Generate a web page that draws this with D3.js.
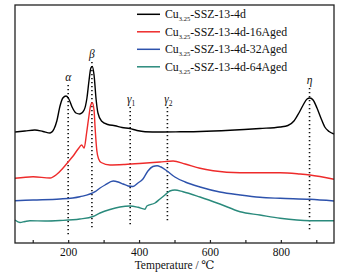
<!DOCTYPE html>
<html><head><meta charset="utf-8">
<script src="https://cdn.jsdelivr.net/npm/d3@7"></script>
<style>
html,body{margin:0;padding:0;background:#fff;}
svg{display:block;}
svg text{font-family:"Liberation Serif","Times New Roman","DejaVu Serif",serif !important;fill:#111;}
</style></head>
<body>
<script>
// ---- data (temperature °C, intensity a.u.) ----
const seriesNames = ["Cu3.25-SSZ-13-4d","Cu3.25-SSZ-13-4d-16Aged","Cu3.25-SSZ-13-4d-32Aged","Cu3.25-SSZ-13-4d-64Aged"];
const seriesColors = ["#000000","#ee2b2b","#2d52ac","#2a8a7c"];
const freshT = [50,78,106,129,149,160,168,177,185,194,202,211,222,233,245,253,259,264,268,273,279,284,294,312,332,352,374,394,417,459,516,572,657,741,798,820,837,851,863,874,882,891,902,913,924,936,950];
const freshV = [111,112,113,111.5,110,114,122,137,145,147,144,136,130,129,133,145,163,175,176.5,168,143,130,122,118.5,117.3,115.5,114.5,112.5,111.3,111,111.2,111.5,112.7,114.5,116,117.5,122,130,138,144,145,143,135,125,116,111.5,109];
const aged16T = [50,101,149,168,185,200,214,228,238,245,252,259,263,268,273,276,281,286,293,318,360,411,459,496,530,572,609,685,798,854,882,950];
const aged16V = [64.7,66.3,65,68.7,74.7,81,87,94,98,95,110,128,137,140.3,133,115,92,84,80.5,78,78.5,79.7,81,82,79,74.7,72.3,70.3,70.3,69,68,63.7];
const aged32T = [50,101,177,233,276,290,304,327,341,355,369,383,397,411,425,439,451,462,479,501,530,572,628,685,741,798,882,950];
const aged32V = [42.3,43,44,46.3,51.3,55,58,62,61,59,57,56.5,60,64,72,76.5,77.3,76,72,66,61,56,51,48,45.7,44.7,43.7,42];
const aged64T = [50,64,78,92,135,177,233,270,290,318,346,374,397,417,422,445,459,473,487,501,524,572,628,685,741,798,882,950];
const aged64V = [23,20.5,21.5,22.3,22,22.5,24,26.5,30,33.5,36,37,35.7,33.7,37,40,44,48,52,53,51.3,46,39,31.3,28,24.7,22.3,22.3];
// peak markers
const peakNames = ["α","β","γ","γ","η"];
const peakSubs = ["","","1","2",""];
const peakT = [200,267,375,480,881];
const peakTop = [158,181,136,136,155];
const peakBottom = [7,15,16,20,11];
const xTicks = [100,200,300,400,500,600,700,800,900];
const xLabels = [200,400,600,800];

const W=347,H=279;
const m={l:15,r:13,t:5,b:36};
const FONT='"Liberation Serif","Times New Roman",serif';
const svg=d3.select("body").append("svg").attr("width",W).attr("height",H);
const x=d3.scaleLinear().domain([50,950]).range([m.l,W-m.r]);
const y=d3.scaleLinear().domain([0,238]).range([H-m.b,m.t]);

const data=[[freshT,freshV],[aged16T,aged16V],[aged32T,aged32V],[aged64T,aged64V]].map(([t,v])=>t.map((d,i)=>[d,v[i]]));

// dotted markers
peakT.forEach((t,i)=>{
  svg.append("line").attr("x1",x(t)).attr("x2",x(t)).attr("y1",y(peakTop[i])).attr("y2",y(peakBottom[i]))
    .attr("stroke","#111").attr("stroke-width",1.6).attr("stroke-dasharray","1.3,2.7");
});

const line=d3.line().x(d=>x(d[0])).y(d=>y(d[1])).curve(d3.curveMonotoneX);
[3,2,1,0].forEach(k=>{
  svg.append("path").attr("d",line(data[k])).attr("fill","none")
    .attr("stroke",seriesColors[k]).attr("stroke-width",1.4).attr("stroke-linejoin","round");
});

// peak labels
peakT.forEach((t,i)=>{
  const tx=svg.append("text").attr("x",x(t)+(peakSubs[i]?1:0)).attr("y",y(peakTop[i])-4)
    .attr("text-anchor","middle").style("font-size","11.5px").style("font-style","italic");
  tx.append("tspan").text(peakNames[i]);
  if(peakSubs[i]) tx.append("tspan").style("font-size","7.5px").style("font-style","normal").attr("dy",2.5).text(peakSubs[i]);
});

// frame
svg.append("rect").attr("x",m.l).attr("y",m.t).attr("width",W-m.l-m.r).attr("height",H-m.t-m.b)
  .attr("fill","none").attr("stroke","#222").attr("stroke-width",1.3);

// x axis
const ax=svg.append("g").attr("transform",`translate(0,${H-m.b})`)
  .call(d3.axisBottom(x).tickValues(xTicks).tickSizeInner(-3).tickSizeOuter(0).tickFormat(d=>xLabels.includes(d)?d:""));
ax.attr("font-family",null);
ax.select(".domain").remove();
ax.selectAll(".tick line").attr("stroke","#222").attr("stroke-width",1.2);
ax.selectAll(".tick text").style("font-size","11.5px").style("font-family",FONT).attr("fill","#111").attr("y",5).attr("dy","0.71em");

svg.append("text").attr("x",x(500)).attr("y",H-10).attr("text-anchor","middle").style("font-size","11.5px").style("font-family",FONT)
  .text("Temperature / ℃");

// legend
const lg=svg.append("g");
seriesNames.forEach((n,i)=>{
  const yy=14.3+i*17.5;
  lg.append("line").attr("x1",137).attr("x2",160).attr("y1",yy).attr("y2",yy)
    .attr("stroke",seriesColors[i]).attr("stroke-width",1.5);
  const t=lg.append("text").attr("x",165).attr("y",yy+4).style("font-size","11.8px").style("font-family",FONT);
  t.append("tspan").text("Cu");
  t.append("tspan").style("font-size","6.5px").attr("dy",3).text("3.25");
  t.append("tspan").attr("dy",-3).text(n.replace("Cu3.25",""));
});
</script>
</body></html>
